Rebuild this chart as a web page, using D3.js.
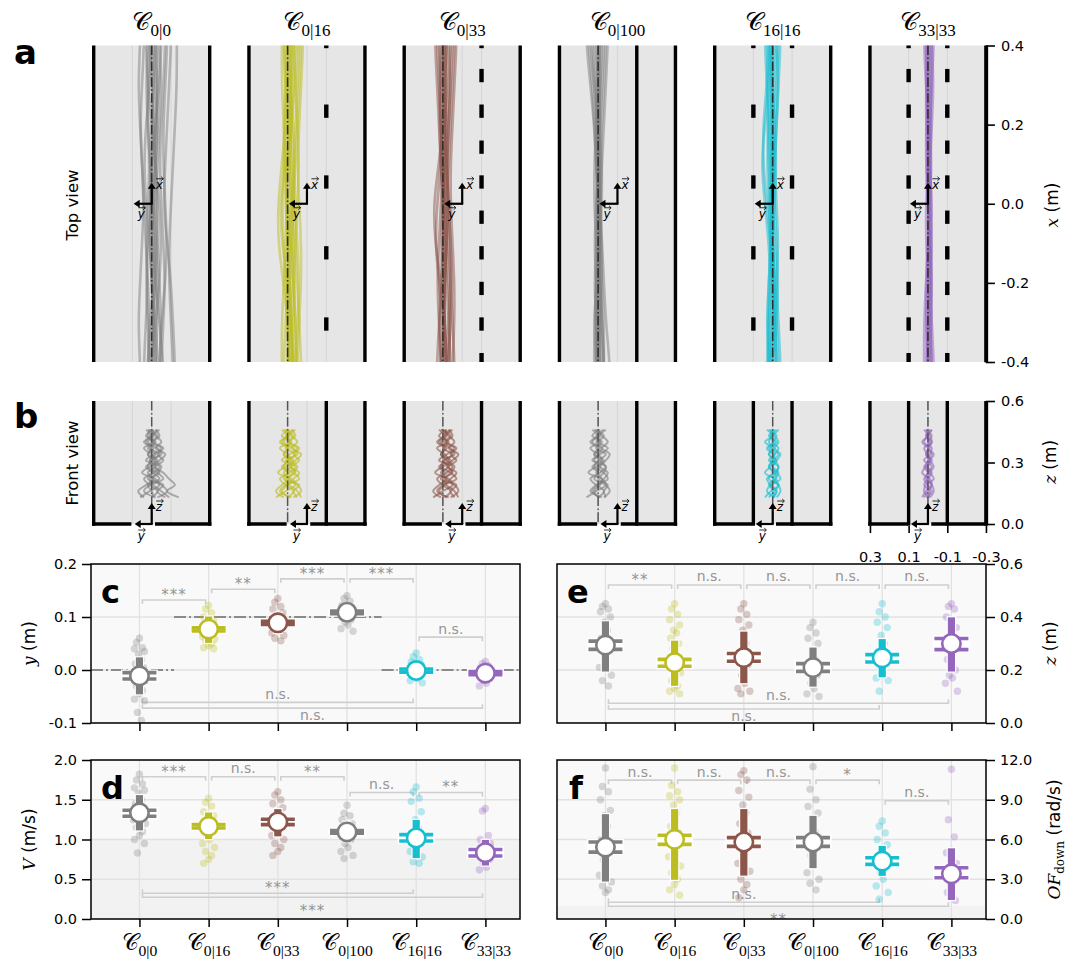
<!DOCTYPE html>
<html>
<head>
<meta charset="utf-8">
<script src="https://cdn.jsdelivr.net/npm/d3@7/dist/d3.min.js"></script>
<style>
body{margin:0;background:#fff;}
svg text{font-family:"DejaVu Sans",sans-serif;}
</style>
</head>
<body>
<svg id="fig" width="1077" height="959"></svg>
<script>
// ================= DATA =================
const conditions = ["0|0","0|16","0|33","0|100","16|16","33|33"];
const condColors = ["#7f7f7f","#bcbd22","#8c564b","#7f7f7f","#17becf","#9467bd"];
const flightCentre = [0, 0.1, 0.1, 0.1, 0, 0];          // m (lateral y)
const solidWallsTop = [[], [], [], [-0.1], [], []];
const porousWallsTop = [[], [-0.1], [-0.1], [], [0.1,-0.1], [0.1,-0.1]];
const dashCentres16 = [0.41, 0.234, 0.055, -0.124, -0.304];
const dashCentres33 = [0.41, 0.324, 0.234, 0.143, 0.055, -0.034, -0.124, -0.214, -0.304, -0.394];
const porousDashSet = [null, dashCentres16, dashCentres33, null, dashCentres16, dashCentres33];
const innerWallsFront = [[], [-0.1], [-0.1], [-0.1], [0.1,-0.1], [0.1,-0.1]];
const topTicks = [0.4, 0.2, 0, -0.2, -0.4];
const frontZTicks = [0.6, 0.3, 0];
const frontYTicks = [0.3, 0.1, -0.1, -0.3];

// top view trajectories: lateral position y (cm) sampled at these x positions (m)
const topXs = [0.4, 0.3, 0.2, 0.1, 0.0, -0.1, -0.2, -0.3, -0.4];
const topTraj00 = [
 [-2,-1,0,1,0,-1,-2,-1,0],[2,3,2,1,2,3,2,1,2],[-4,-5,-4,-3,-2,-3,-4,-5,-4],[4,5,6,5,4,3,2,3,4],
 [-7,-6,-5,-4,-5,-6,-7,-6,-5],[0,1,3,4,3,1,0,-2,-3],[-1,-2,-3,-2,0,2,3,2,1],[6,7,6,5,4,5,6,7,6],
 [-10,-9,-8,-7,-6,-8,-10,-11,-12],[-3,-3,-2,-1,-1,-2,-3,-3,-2],[1,0,-1,-2,-3,-3,-2,0,1],
 [-13,-13,-12,-11,-10,-9,-9,-10,-11],[3,2,0,-2,-4,-5,-4,-2,0],[-5,-4,-2,0,1,0,-2,-4,-6],[-8,-7,-6,-6,-7,-8,-7,-5,-4],
 [0,-1,-1,0,1,1,0,-1,-1],[-2,-3,-3,-2,-1,0,0,-1,-2],[1,2,2,1,-1,-2,-1,1,2]];
const topTraj016 = [
 [10,9,8,9,10,9,8,9,10],[12,11,10,9,8,9,10,11,12],[6,7,8,9,8,7,6,7,8],[4,5,6,7,6,5,4,5,6],
 [8,8,9,10,11,10,9,8,8],[13,13,12,11,10,11,12,13,13],[3,4,5,6,7,8,7,6,5],[9,10,11,12,13,12,11,10,9],
 [11,10,9,8,7,6,5,4,3],[7,6,5,4,5,6,7,8,9],[12,11,11,13,15,15,12,10,9],[5,6,8,11,14,13,10,8,7],
 [2,3,4,5,4,3,3,4,5],[10,11,12,12,11,10,9,8,7],[8,9,7,6,8,10,11,9,7],[9,8,8,7,7,8,9,10,10],[7,8,10,11,10,8,7,6,6]];
const topTraj033 = [
 [9,8,9,10,9,8,9,10,9],[11,12,11,10,9,10,11,12,11],[7,6,7,8,9,8,7,6,7],[5,6,7,8,7,6,5,6,7],
 [13,12,11,10,11,12,13,12,11],[10,9,8,9,10,11,10,9,8],[4,5,6,7,8,7,6,5,4],[12,11,10,11,13,14,12,10,9],
 [8,9,10,12,15,14,11,9,8],[6,7,8,8,7,6,6,7,8],[10,11,12,11,10,9,8,7,6],[14,13,12,11,10,9,10,12,13],
 [3,4,5,6,6,5,4,4,5],[9,10,9,8,7,8,9,10,11],[8,8,9,9,8,8,9,9,8],[10,10,9,9,10,10,9,9,10]];
const topTraj0100 = [
 [10,9,10,11,10,9,10,11,10],[15,13,12,11,10,10,11,12,11],[7,8,9,10,11,10,9,8,7],[12,11,10,9,9,10,11,12,12],
 [16,14,12,11,10,9,9,8,7],[6,7,8,9,9,8,7,6,4],[9,10,11,12,12,11,10,9,9],[13,12,11,10,9,8,8,9,10],
 [8,9,9,10,11,12,11,10,9],[11,10,9,8,8,9,10,10,11],[14,12,10,9,10,11,12,11,10],[5,6,7,8,9,9,8,7,7],
 [10,11,11,10,9,9,10,11,11],[9,9,10,10,10,10,9,9,8]];
const topTraj1616 = [
 [0,1,0,-1,0,1,0,-1,0],[2,1,2,3,2,1,2,3,2],[-2,-3,-2,-1,-2,-3,-2,-1,-2],[3,2,4,6,4,2,1,2,3],
 [-3,-2,-1,0,1,0,-1,-2,-3],[1,2,3,2,1,0,-1,0,1],[-1,0,1,0,-1,-2,-3,-2,-1],[4,3,2,1,0,-1,-2,-3,-4],
 [-4,-3,-2,-1,0,1,2,3,2],[1,0,-1,-2,-1,0,1,2,1],[2,3,5,5,3,1,0,1,2],[-2,-1,0,1,2,1,0,-1,-2],
 [0,0,1,1,0,0,-1,-1,0],[1,1,0,0,1,1,0,0,1]];
const topTraj3333 = [
 [0,-1,0,1,0,-1,0,1,0],[-2,-1,-2,-1,-2,-1,-2,-1,-2],[1,1,0,-1,-1,0,1,1,0],[-1,-2,-1,0,0,-1,-2,-2,-1],
 [2,1,0,-1,-2,-2,-1,0,1],[-3,-2,-1,0,1,1,0,-1,-2],[0,1,1,0,-1,-2,-2,-1,0],[-1,0,1,1,0,-1,-1,0,-1],
 [1,0,-1,-2,-1,0,1,2,2],[-2,-3,-2,-1,0,0,-1,-2,-3]];
const topTrajectories = [topTraj00, topTraj016, topTraj033, topTraj0100, topTraj1616, topTraj3333];

// front view trajectories: lateral position y (cm) at these heights z (cm)
const frontZs = [46,43,40,37,34,31,28,25,22,19,16,13];
const frontTraj00 = [
 [-1,3,-2,1,-4,0,2,-3,-6,1,4,-2],[2,-3,0,-5,-1,3,-4,-1,2,-5,-8,-3],[-4,0,3,-1,2,-3,1,5,-2,-4,1,6],
 [1,-2,-5,-2,-7,-4,-1,-6,-9,-12,-8,-14],[-3,1,-1,4,0,-2,3,0,4,1,-3,0],[0,-1,2,-3,-5,1,-2,2,-1,3,7,4],
 [3,0,4,0,2,-1,-5,-3,0,-6,-3,-7],[-2,-4,-1,-6,-3,-6,-2,-4,1,-1,-5,-9],[1,2,0,2,-2,1,0,-1,-4,2,0,-1]];
const frontTraj016 = [
 [9,13,8,11,6,10,12,7,4,11,14,8],[12,7,10,5,9,13,6,9,12,5,3,7],[6,10,13,9,12,7,11,15,8,6,11,16],
 [11,8,5,8,3,6,9,4,7,10,13,9],[7,11,9,14,10,8,13,10,14,11,7,10],[10,9,12,7,5,11,8,12,9,13,16,12],
 [13,10,14,10,12,9,5,7,10,4,7,5],[8,6,9,4,7,4,8,6,11,9,5,3]];
const frontTraj033 = [
 [8,12,7,10,5,9,11,6,3,10,13,7],[11,6,9,4,8,12,5,8,11,4,2,6],[5,9,12,8,11,6,10,14,7,5,10,15],
 [10,7,4,7,2,5,8,3,6,9,12,8],[6,10,8,13,9,7,12,9,13,10,6,9],[9,8,11,6,4,10,7,11,8,12,15,11],
 [12,9,13,9,11,8,4,6,9,3,6,4],[7,5,8,3,6,3,7,5,10,8,4,2]];
const frontTraj0100 = [
 [9,13,8,11,6,10,12,7,5,11,14,8],[12,7,10,5,9,13,6,9,12,6,4,7],[6,10,13,9,12,7,11,15,8,6,11,16],
 [11,8,5,8,4,6,9,5,7,10,13,9],[7,11,9,14,10,8,13,10,14,11,7,10],[13,10,14,10,12,9,6,7,10,5,7,6],
 [10,9,11,8,10,12,9,11,8,9,12,10]];
const frontTraj1616 = [
 [-1,2,-2,1,-3,0,2,-2,-4,1,3,-1],[2,-2,0,-3,-1,2,-3,-1,2,-3,-4,-2],[-3,0,2,-1,2,-2,1,4,-1,-3,1,4],
 [1,-1,-3,-1,-4,-2,0,-3,-1,2,-2,0],[-2,1,-1,3,0,-1,2,0,3,1,-2,0],[3,0,4,0,2,-1,-3,-2,0,-3,-1,2],
 [0,1,0,2,-1,1,0,-1,-2,1,0,-1]];
const frontTraj3333 = [
 [-1,1,-2,0,-2,0,1,-1,-3,1,2,-1],[1,-2,0,-2,-1,2,-2,0,1,-2,-3,-1],[-2,0,2,-1,1,-2,1,3,-1,-2,1,3],
 [1,-1,-2,0,-3,-1,0,-2,0,2,-1,0],[-2,1,-1,2,0,-1,2,0,2,0,-2,1],[2,0,3,0,1,-1,-3,-1,0,-2,0,2]];
const frontTrajectories = [frontTraj00, frontTraj016, frontTraj033, frontTraj0100, frontTraj1616, frontTraj3333];

// ---- panel c: y (m)
const yTicks = [-0.1, 0, 0.1, 0.2];
const yMedian = [-0.011, 0.077, 0.089, 0.109, -0.001, -0.006];
const yBarLo  = [-0.047, 0.050, 0.069, 0.091, -0.015, -0.020];
const yBarHi  = [0.025, 0.102, 0.109, 0.126, 0.012, 0.006];
const yCiLo   = [-0.017, 0.0735, 0.086, 0.106, -0.004, -0.009];
const yCiHi   = [-0.005, 0.0795, 0.092, 0.111, 0.002, -0.003];
const yPoints = [
 [0.06,0.052,0.042,0.04,0.035,0.03,0.02,0.012,0.005,0.0,-0.005,-0.012,-0.02,-0.03,-0.038,-0.045,-0.055,-0.058,-0.08,-0.095],
 [0.122,0.115,0.108,0.1,0.095,0.09,0.085,0.08,0.077,0.072,0.068,0.063,0.058,0.055,0.05,0.046,0.042,0.04],
 [0.135,0.128,0.12,0.115,0.108,0.1,0.095,0.09,0.085,0.08,0.075,0.07,0.065,0.06,0.055],
 [0.14,0.135,0.13,0.122,0.115,0.11,0.105,0.1,0.095,0.09,0.085,0.078,0.073],
 [0.032,0.025,0.02,0.015,0.01,0.005,0.0,-0.004,-0.008,-0.012,-0.016,-0.02,-0.024],
 [0.016,0.012,0.008,0.004,0.0,-0.004,-0.008,-0.012,-0.016,-0.02,-0.025,-0.03]];
const yReference = [{from:-0.7,to:0.5,value:0},{from:0.5,to:3.5,value:0.1},{from:3.5,to:5.5,value:0}];
const ySig = [
 {a:0,b:1,v:0.132,t:"***",pos:"top"},{a:1,b:2,v:0.1525,t:"**",pos:"top"},{a:2,b:3,v:0.172,t:"***",pos:"top"},
 {a:3,b:4,v:0.172,t:"***",pos:"top"},{a:4,b:5,v:0.062,t:"n.s.",pos:"top"},
 {a:0,b:4,v:-0.061,t:"n.s.",pos:"bottom",label:"above"},{a:0,b:5,v:-0.072,t:"n.s.",pos:"bottom",label:"below"}];

// ---- panel d: V (m/s)
const vTicks = [0, 0.5, 1.0, 1.5, 2.0];
const vMedian = [1.335, 1.166, 1.221, 1.095, 1.019, 0.834];
const vBarLo  = [1.107, 0.998, 1.032, 0.968, 0.758, 0.665];
const vBarHi  = [1.566, 1.347, 1.389, 1.229, 1.255, 1.002];
const vCiLo   = [1.293, 1.145, 1.187, 1.078, 0.981, 0.792];
const vCiHi   = [1.368, 1.188, 1.255, 1.112, 1.061, 0.874];
const vPoints = [
 [1.82,1.75,1.7,1.65,1.62,1.58,1.5,1.45,1.4,1.35,1.3,1.25,1.2,1.15,1.1,1.05,1.0,0.95,0.83],
 [1.52,1.47,1.42,1.35,1.3,1.25,1.2,1.15,1.1,1.05,1.0,0.95,0.9,0.85,0.8,0.75,0.7],
 [1.6,1.56,1.5,1.45,1.4,1.35,1.3,1.25,1.2,1.15,1.1,1.05,1.0,0.95,0.9,0.85,0.8],
 [1.43,1.33,1.3,1.25,1.2,1.15,1.1,1.05,1.0,0.95,0.9,0.85,0.8,0.76],
 [1.66,1.6,1.52,1.48,1.35,1.25,1.15,1.05,1.0,0.95,0.9,0.85,0.78,0.72,0.7],
 [1.39,1.36,1.05,1.0,0.95,0.9,0.85,0.8,0.75,0.7,0.65,0.62]];
const vSig = [
 {a:0,b:1,v:1.789,t:"***",pos:"top"},{a:1,b:2,v:1.789,t:"n.s.",pos:"top"},{a:2,b:3,v:1.789,t:"**",pos:"top"},
 {a:3,b:4,v:1.592,t:"n.s.",pos:"top"},{a:4,b:5,v:1.592,t:"**",pos:"top"},
 {a:0,b:4,v:0.324,t:"***",pos:"bottom",label:"above"},{a:0,b:5,v:0.274,t:"***",pos:"bottom",label:"below"}];

// ---- panel e: z (m)
const zTicks = [0, 0.2, 0.4, 0.6];
const zMedian = [0.294, 0.228, 0.247, 0.209, 0.246, 0.300];
const zBarLo  = [0.192, 0.138, 0.148, 0.135, 0.170, 0.192];
const zBarHi  = [0.386, 0.313, 0.347, 0.287, 0.319, 0.401];
const zCiLo   = [0.278, 0.214, 0.233, 0.195, 0.230, 0.277];
const zCiHi   = [0.309, 0.240, 0.262, 0.224, 0.258, 0.319];
const zPoints = [
 [0.45,0.44,0.43,0.42,0.4,0.38,0.35,0.32,0.3,0.27,0.24,0.21,0.18,0.16,0.14],
 [0.45,0.43,0.41,0.39,0.37,0.35,0.34,0.32,0.3,0.28,0.25,0.22,0.19,0.16,0.14,0.13,0.12,0.11],
 [0.45,0.43,0.41,0.39,0.37,0.35,0.3,0.26,0.22,0.18,0.15,0.13,0.12,0.11],
 [0.38,0.36,0.34,0.32,0.3,0.27,0.24,0.21,0.18,0.15,0.13,0.11,0.1],
 [0.45,0.42,0.4,0.38,0.36,0.33,0.3,0.27,0.24,0.21,0.18,0.17,0.16,0.12],
 [0.45,0.44,0.43,0.4,0.36,0.32,0.28,0.24,0.2,0.18,0.17,0.15,0.12]];
const zSig = [
 {a:0,b:1,v:0.521,t:"**",pos:"top"},{a:1,b:2,v:0.521,t:"n.s.",pos:"top"},{a:2,b:3,v:0.521,t:"n.s.",pos:"top"},
 {a:3,b:4,v:0.521,t:"n.s.",pos:"top"},{a:4,b:5,v:0.521,t:"n.s.",pos:"top"},
 {a:0,b:5,v:0.0747,t:"n.s.",pos:"bottom",label:"above"},{a:0,b:4,v:0.053,t:"n.s.",pos:"bottom",label:"below"}];

// ---- panel f: OF_down (rad/s)
const ofTicks = [0, 3, 6, 9, 12];
const ofMedian = [5.43, 6.01, 5.81, 5.81, 4.37, 3.41];
const ofBarLo  = [2.78, 2.91, 3.23, 3.79, 3.21, 1.39];
const ofBarHi  = [7.96, 8.34, 8.34, 7.83, 5.56, 5.38];
const ofCiLo   = [5.05, 5.63, 5.48, 5.48, 4.12, 3.11];
const ofCiHi   = [5.81, 6.32, 6.14, 6.14, 4.62, 3.87];
const ofPoints = [
 [11.4,10.0,9.6,9.0,8.2,7.8,7.0,6.0,5.2,4.5,3.9,3.3,2.8,2.5,2.2,2.0],
 [11.4,10.1,9.6,9.3,9.0,8.6,8.0,7.0,6.5,6.0,5.4,4.7,4.0,3.5,3.0,2.6,2.2,1.8],
 [11.2,10.9,10.5,9.7,9.2,8.6,8.0,7.2,6.5,5.8,5.0,4.2,3.6,3.0,2.6,2.2,1.6],
 [11.5,9.8,9.0,8.5,8.0,7.3,6.6,6.0,5.5,4.8,4.1,3.5,3.0,2.7,2.2],
 [7.4,7.0,6.5,6.0,5.6,5.2,4.8,4.4,4.0,3.5,3.0,2.5,2.0,1.5],
 [11.3,7.5,6.2,5.0,4.2,3.5,2.8,2.0,1.4]];
const ofSig = [
 {a:0,b:1,v:10.48,t:"n.s.",pos:"top"},{a:1,b:2,v:10.48,t:"n.s.",pos:"top"},{a:2,b:3,v:10.48,t:"n.s.",pos:"top"},
 {a:3,b:4,v:10.48,t:"*",pos:"top"},{a:4,b:5,v:8.92,t:"n.s.",pos:"top"},
 {a:0,b:4,v:1.26,t:"n.s.",pos:"bottom",label:"above"},{a:0,b:5,v:0.96,t:"**",pos:"bottom",label:"below"}];

// ================= RENDER =================
const svg = d3.select("#fig");
const defs = svg.append("defs");
const fmt = v => d3.format(".1f")(v).replace("\u2212","-");
const jitterPx = [0,-3,3,-5,5,-1,2,-4,4,-2,1,-6,6,-3,3,0,-5,5,-2,2];

const PL0 = 93.7, PSTEP = 155.25, PW = 116;
const topY0 = 45.5, topY1 = 362;
const frY0 = 401, frY1 = 524;
const xTop = d3.scaleLinear().domain([0.4,-0.4]).range([topY0, topY1]);
const zFr = d3.scaleLinear().domain([0,0.6]).range([frY1, frY0]);
const latScale = i => d3.scaleLinear().domain([0.3,-0.3]).range([PL0+PSTEP*i, PL0+PSTEP*i+PW]);

function calLabel(sel, x, y, sub, size){
  const t = sel.append("text").attr("x",x).attr("y",y).attr("text-anchor","middle").attr("fill","#000");
  t.append("tspan").attr("font-family","DejaVu Serif, serif").attr("font-size",size).text("\uD835\uDC9E");
  t.append("tspan").attr("font-family","Liberation Serif, serif").attr("font-size",size*0.68).attr("dy",size*0.24).text(sub);
}
function vecLabel(g, x, y, letter){
  g.append("text").attr("x",x).attr("y",y).attr("font-family","DejaVu Serif, serif").attr("font-style","italic").attr("font-size",12).text(letter);
  g.append("path").attr("d",`M${x+0.5},${y-10}h7`).attr("stroke","#000").attr("stroke-width",0.8).attr("fill","none");
  g.append("path").attr("d",`M${x+5.5},${y-12}l2.2,2l-2.2,2`).attr("stroke","#000").attr("stroke-width",0.8).attr("fill","none");
}
function arrowUp(g, x, y0, y1){
  g.append("line").attr("x1",x).attr("x2",x).attr("y1",y0).attr("y2",y1+5).attr("stroke","#000").attr("stroke-width",2.2);
  g.append("path").attr("d",`M${x-4},${y1+6}L${x},${y1}L${x+4},${y1+6}Z`).attr("fill","#000");
}
function arrowLeft(g, y, x0, x1){
  g.append("line").attr("x1",x0+1).attr("x2",x1+5).attr("y1",y).attr("y2",y).attr("stroke","#000").attr("stroke-width",2.2);
  g.append("path").attr("d",`M${x1+6},${y-4}L${x1},${y}L${x1+6},${y+4}Z`).attr("fill","#000");
}

// ---------- Panel a: top view ----------
conditions.forEach((c,i)=>{
  const ys = latScale(i);
  const L = ys(0.3), R = ys(-0.3), cx = ys(0);
  const g = svg.append("g");
  const cid = "clipTop"+i;
  defs.append("clipPath").attr("id",cid).append("rect").attr("x",L).attr("y",topY0).attr("width",R-L).attr("height",topY1-topY0);
  g.append("rect").attr("x",L).attr("y",topY0).attr("width",R-L).attr("height",topY1-topY0).attr("fill","#e6e6e6");
  [0.1,0,-0.1].forEach(v=> g.append("line").attr("x1",ys(v)).attr("x2",ys(v)).attr("y1",topY0).attr("y2",topY1).attr("stroke","#d4d4d4").attr("stroke-width",1));
  const gc = g.append("g").attr("clip-path",`url(#${cid})`);
  const line = d3.line().x(d=>ys(d[0]/100)).y(d=>xTop(d[1])).curve(d3.curveBasis);
  topTrajectories[i].forEach(tr=>{
    const pts = tr.map((v,k)=>[v,topXs[k]]);
    pts.unshift([tr[0],0.45]); pts.push([tr[tr.length-1],-0.45]);
    gc.append("path").attr("d",line(pts)).attr("fill","none")
      .attr("stroke",condColors[i]).attr("stroke-width",2.6).attr("stroke-opacity",0.5);
  });
  // centreline
  gc.append("line").attr("x1",ys(flightCentre[i])).attr("x2",ys(flightCentre[i])).attr("y1",topY0).attr("y2",topY1)
    .attr("stroke","#2e2e2e").attr("stroke-width",1.6).attr("stroke-dasharray","9.6,2.4,1.5,2.4");
  // walls
  [0.3,-0.3].concat(solidWallsTop[i]).forEach(w=> g.append("line").attr("x1",ys(w)).attr("x2",ys(w)).attr("y1",topY0).attr("y2",topY1).attr("stroke","#000").attr("stroke-width",3.4));
  porousWallsTop[i].forEach(w=>{
    porousDashSet[i].forEach(dc=>{
      gc.append("rect").attr("x",ys(w)-2.2).attr("width",4.4).attr("y",xTop(dc+0.0168)).attr("height",xTop(dc-0.0168)-xTop(dc+0.0168)).attr("fill","#000");
    });
  });
  // axis arrows
  const oy = xTop(0);
  arrowUp(g, cx, oy, oy-21);
  arrowLeft(g, oy, cx, cx-18);
  vecLabel(g, cx+4, oy-15, "x");
  vecLabel(g, cx-14, oy+14, "y");
  // title
  calLabel(svg, (L+R)/2, 30, conditions[i], 25);
});
// right axis of top view
{
  const ax = d3.axisRight(xTop).tickValues(topTicks).tickFormat(fmt).tickSize(9).tickPadding(6).tickSizeOuter(0);
  const g = svg.append("g").attr("transform",`translate(${latScale(5)(-0.3)},0)`).call(ax);
  g.select(".domain").attr("stroke-width",3.4);
  g.selectAll(".tick line").attr("stroke-width",1.6);
  g.selectAll("text").attr("font-size",14.5).attr("font-family","DejaVu Sans");
  const t = svg.append("text").attr("transform","translate(1058,205) rotate(-90)").attr("text-anchor","middle").attr("font-size",17);
  t.append("tspan").attr("font-family","DejaVu Serif, serif").attr("font-style","italic").text("x");
  t.append("tspan").attr("font-family","DejaVu Sans").text(" (m)");
}
svg.append("text").attr("transform","translate(78,205) rotate(-90)").attr("text-anchor","middle").attr("font-size",16.5).text("Top view");
svg.append("text").attr("x",14).attr("y",64).attr("font-size",34).attr("font-weight","bold").text("a");

// ---------- Panel b: front view ----------
conditions.forEach((c,i)=>{
  const ys = latScale(i);
  const L = ys(0.3), R = ys(-0.3), cx = ys(0);
  const g = svg.append("g");
  const cid = "clipFr"+i;
  defs.append("clipPath").attr("id",cid).append("rect").attr("x",L).attr("y",frY0).attr("width",R-L).attr("height",frY1-frY0);
  g.append("rect").attr("x",L).attr("y",frY0).attr("width",R-L).attr("height",frY1-frY0).attr("fill","#e6e6e6");
  [0.1,0,-0.1].forEach(v=> g.append("line").attr("x1",ys(v)).attr("x2",ys(v)).attr("y1",frY0).attr("y2",frY1).attr("stroke","#d4d4d4").attr("stroke-width",1));
  const gc = g.append("g").attr("clip-path",`url(#${cid})`);
  const line = d3.line().x(d=>ys(d[0]/100)).y(d=>zFr(d[1]/100)).curve(d3.curveCatmullRom);
  frontTrajectories[i].forEach(tr=>{
    gc.append("path").attr("d",line(tr.map((v,k)=>[v,frontZs[k]]))).attr("fill","none")
      .attr("stroke",condColors[i]).attr("stroke-width",2).attr("stroke-opacity",0.6);
  });
  gc.append("line").attr("x1",ys(flightCentre[i])).attr("x2",ys(flightCentre[i])).attr("y1",frY0).attr("y2",frY1)
    .attr("stroke","#555").attr("stroke-width",1.5).attr("stroke-dasharray","9.6,2.4,1.5,2.4");
  // walls
  [0.3,-0.3].concat(innerWallsFront[i]).forEach(w=> g.append("line").attr("x1",ys(w)).attr("x2",ys(w)).attr("y1",frY0).attr("y2",frY1+1.7).attr("stroke","#000").attr("stroke-width",3.4));
  // floor with opening around the origin
  g.append("line").attr("x1",ys(0.3)-1.7).attr("x2",ys(0.105)).attr("y1",frY1).attr("y2",frY1).attr("stroke","#000").attr("stroke-width",3.4);
  g.append("line").attr("x1",ys(-0.017)).attr("x2",ys(-0.3)+1.7).attr("y1",frY1).attr("y2",frY1).attr("stroke","#000").attr("stroke-width",3.4);
  arrowUp(g, cx, frY1, frY1-21);
  arrowLeft(g, frY1, cx, cx-17);
  vecLabel(g, cx+4, frY1-13, "z");
  vecLabel(g, cx-14, frY1+16, "y");
});
{
  const ax = d3.axisRight(zFr).tickValues(frontZTicks).tickFormat(fmt).tickSize(9).tickPadding(6).tickSizeOuter(0);
  const g = svg.append("g").attr("transform",`translate(${latScale(5)(-0.3)},0)`).call(ax);
  g.select(".domain").attr("stroke-width",3.4);
  g.selectAll(".tick line").attr("stroke-width",1.6);
  g.selectAll("text").attr("font-size",14.5).attr("font-family","DejaVu Sans");
  const ax2 = d3.axisBottom(latScale(5)).tickValues(frontYTicks).tickFormat(fmt).tickSize(7).tickPadding(19).tickSizeOuter(0);
  const g2 = svg.append("g").attr("transform",`translate(0,${frY1+2})`).call(ax2);
  g2.select(".domain").remove();
  g2.selectAll(".tick line").attr("stroke-width",1.6);
  g2.selectAll("text").attr("font-size",14.5).attr("font-family","DejaVu Sans");
  const t = svg.append("text").attr("transform","translate(1056,462) rotate(-90)").attr("text-anchor","middle").attr("font-size",17);
  t.append("tspan").attr("font-family","DejaVu Serif, serif").attr("font-style","italic").text("z");
  t.append("tspan").attr("font-family","DejaVu Sans").text(" (m)");
}
svg.append("text").attr("transform","translate(78,463) rotate(-90)").attr("text-anchor","middle").attr("font-size",16.5).text("Front view");
svg.append("text").attr("x",14).attr("y",428).attr("font-size",34).attr("font-weight","bold").text("b");

// ---------- Panels c-f ----------
function statPanel(cfg){
  const x = d3.scaleLinear().domain([-0.7,5.5]).range([cfg.x0,cfg.x1]);
  const y = d3.scaleLinear().domain(cfg.domain).range([cfg.y1,cfg.y0]);
  const g = svg.append("g");
  const cid = "clipS"+cfg.id;
  defs.append("clipPath").attr("id",cid).append("rect").attr("x",cfg.x0).attr("y",cfg.y0).attr("width",cfg.x1-cfg.x0).attr("height",cfg.y1-cfg.y0);
  g.append("rect").attr("x",cfg.x0).attr("y",cfg.y0).attr("width",cfg.x1-cfg.x0).attr("height",cfg.y1-cfg.y0).attr("fill","#f9f9f9");
  const gi = g.append("g").attr("clip-path",`url(#${cid})`);
  if(cfg.band) gi.append("rect").attr("x",cfg.x0).attr("width",cfg.x1-cfg.x0).attr("y",y(cfg.band[1])).attr("height",y(cfg.band[0])-y(cfg.band[1])).attr("fill","#f2f2f2");
  cfg.ticks.forEach(t=> gi.append("line").attr("x1",cfg.x0).attr("x2",cfg.x1).attr("y1",y(t)).attr("y2",y(t)).attr("stroke","#e2e2e2").attr("stroke-width",1.3));
  conditions.forEach((c,i)=> gi.append("line").attr("x1",x(i)).attr("x2",x(i)).attr("y1",cfg.y0).attr("y2",cfg.y1).attr("stroke","#e2e2e2").attr("stroke-width",1.3));
  (cfg.ref||[]).forEach(r=> gi.append("line").attr("x1",x(r.from)).attr("x2",x(r.to)).attr("y1",y(r.value)).attr("y2",y(r.value))
      .attr("stroke","#8a8a8a").attr("stroke-width",2).attr("stroke-dasharray","12,3,2,3"));
  // significance brackets
  cfg.sig.forEach(s=>{
    const bx0 = x(s.a)+3, bx1 = x(s.b)-3, by = y(s.v);
    const tk = s.pos==="top" ? 4 : -4;
    gi.append("path").attr("d",`M${bx0},${by+tk}V${by}H${bx1}V${by+tk}`).attr("fill","none").attr("stroke","#cfcfcf").attr("stroke-width",1.6);
    const star = s.t.indexOf("*")>=0;
    const where = s.label || "above";
    let ty;
    if(where==="above") ty = by - (star ? 0 : 3.5);
    else ty = by + (star ? 19 : 12);
    gi.append("text").attr("x",(x(s.a)+x(s.b))/2).attr("y",ty).attr("text-anchor","middle")
      .attr("font-size",star?15:14).attr("fill","#959595").attr("letter-spacing",star?"1px":"0").text(s.t);
  });
  // points
  cfg.points.forEach((arr,i)=> arr.forEach((v,k)=> gi.append("circle").attr("cx",x(i)+jitterPx[k%jitterPx.length]).attr("cy",y(v)).attr("r",3.7)
      .attr("fill",condColors[i]).attr("fill-opacity",0.3)));
  // summary markers
  conditions.forEach((c,i)=>{
    const cx = x(i), col = condColors[i];
    gi.append("rect").attr("x",cx-4.2).attr("width",8.4).attr("y",y(cfg.hi[i])).attr("height",y(cfg.lo[i])-y(cfg.hi[i]))
      .attr("fill",col).attr("stroke","#fff").attr("stroke-width",1.2);
    const y1 = y(cfg.ciHi[i]), y2 = y(cfg.ciLo[i]);
    gi.append("rect").attr("x",cx-18.5).attr("width",37).attr("y",y1-3).attr("height",y2-y1+6).attr("fill","#fff");
    [y1,y2].forEach(yy=> gi.append("line").attr("x1",cx-17).attr("x2",cx+17).attr("y1",yy).attr("y2",yy).attr("stroke",col).attr("stroke-width",3.6));
    gi.append("circle").attr("cx",cx).attr("cy",y(cfg.med[i])).attr("r",9.2).attr("fill","#fff").attr("stroke",col).attr("stroke-width",2.6);
  });
  // frame
  g.append("rect").attr("x",cfg.x0).attr("y",cfg.y0).attr("width",cfg.x1-cfg.x0).attr("height",cfg.y1-cfg.y0).attr("fill","none").attr("stroke","#000").attr("stroke-width",1.5);
  // y axis
  const ax = (cfg.side==="left" ? d3.axisLeft(y) : d3.axisRight(y)).tickValues(cfg.ticks).tickFormat(fmt).tickSize(9).tickPadding(5).tickSizeOuter(0);
  const ag = svg.append("g").attr("transform",`translate(${cfg.side==="left"?cfg.x0:cfg.x1},0)`).call(ax);
  ag.select(".domain").remove();
  ag.selectAll(".tick line").attr("stroke-width",1.5);
  ag.selectAll("text").attr("font-size",14.5).attr("font-family","DejaVu Sans");
  // x ticks
  const bx = d3.axisBottom(x).tickValues(d3.range(conditions.length)).tickSize(8).tickFormat("").tickSizeOuter(0);
  const bg = svg.append("g").attr("transform",`translate(0,${cfg.y1})`).call(bx);
  bg.select(".domain").remove();
  bg.selectAll(".tick line").attr("stroke-width",1.5);
  if(cfg.catLabels) conditions.forEach((c,i)=> calLabel(svg, x(i), cfg.y1+31, c, 23));
  svg.append("text").attr("x",cfg.letterX).attr("y",cfg.y0+39).attr("font-size",32).attr("font-weight","bold").text(cfg.letter);
}

const cx0 = 91, cx1 = 520, ex0 = 557, ex1 = 986;
const cy0 = 564, cy1 = 723, dy0 = 760, dy1 = 919;

statPanel({id:"c",x0:cx0,x1:cx1,y0:cy0,y1:cy1,domain:[-0.1,0.2],ticks:yTicks,med:yMedian,lo:yBarLo,hi:yBarHi,ciLo:yCiLo,ciHi:yCiHi,
  points:yPoints,sig:ySig,ref:yReference,side:"left",letter:"c",letterX:101});
statPanel({id:"d",x0:cx0,x1:cx1,y0:dy0,y1:dy1,domain:[0,2],ticks:vTicks,med:vMedian,lo:vBarLo,hi:vBarHi,ciLo:vCiLo,ciHi:vCiHi,
  points:vPoints,sig:vSig,side:"left",letter:"d",letterX:101,catLabels:true,band:[0,1.0]});
statPanel({id:"e",x0:ex0,x1:ex1,y0:cy0,y1:cy1,domain:[0,0.6],ticks:zTicks,med:zMedian,lo:zBarLo,hi:zBarHi,ciLo:zCiLo,ciHi:zCiHi,
  points:zPoints,sig:zSig,side:"right",letter:"e",letterX:567});
statPanel({id:"f",x0:ex0,x1:ex1,y0:dy0,y1:dy1,domain:[0,12],ticks:ofTicks,med:ofMedian,lo:ofBarLo,hi:ofBarHi,ciLo:ofCiLo,ciHi:ofCiHi,
  points:ofPoints,sig:ofSig,side:"right",letter:"f",letterX:569,catLabels:true,band:[0,1.0]});

// axis labels for c-f
function sideLabel(tx, ty, parts){
  const t = svg.append("text").attr("transform",`translate(${tx},${ty}) rotate(-90)`).attr("text-anchor","middle").attr("font-size",17);
  parts.forEach(p=>{
    const s = t.append("tspan").text(p.text);
    if(p.math){ s.attr("font-family","DejaVu Serif, serif").attr("font-style","italic"); }
    else if(p.sub){ s.attr("font-family","DejaVu Serif, serif").attr("font-size",12).attr("dy",4); }
    else { s.attr("font-family","DejaVu Sans"); if(p.up) s.attr("dy",-4); }
  });
}
sideLabel(35, (cy0+cy1)/2, [{text:"y",math:true},{text:" (m)"}]);
sideLabel(35, (dy0+dy1)/2, [{text:"V",math:true},{text:" (m/s)"}]);
sideLabel(1056, (cy0+cy1)/2, [{text:"z",math:true},{text:" (m)"}]);
sideLabel(1060, (dy0+dy1)/2, [{text:"OF",math:true},{text:"down",sub:true},{text:" (rad/s)",up:true}]);
</script>
</body>
</html>
